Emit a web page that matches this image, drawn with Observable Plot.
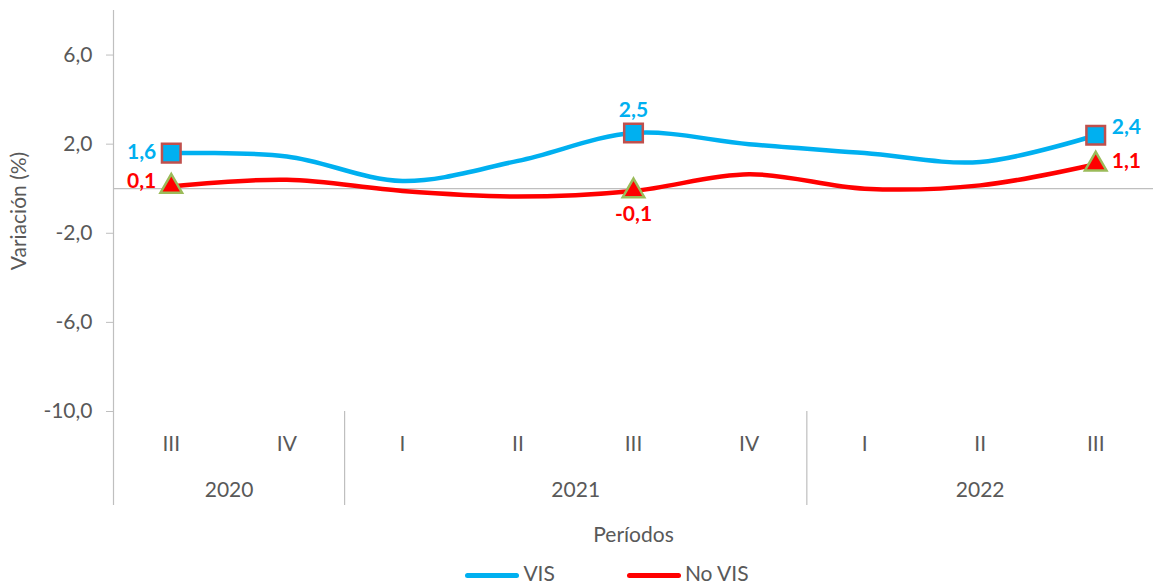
<!DOCTYPE html>
<html>
<head>
<meta charset="utf-8">
<script src="https://cdn.jsdelivr.net/npm/d3@7"></script>
<script src="https://cdn.jsdelivr.net/npm/@observablehq/plot@0.6"></script>
<style>
  html, body { margin: 0; padding: 0; background: #fff; }
  #chart { width: 1154px; }
  .legend { display: flex; justify-content: center; align-items: center; gap: 72px; height: 24px;
    font-family: Lato, "Open Sans", sans-serif; font-size: 21px; color: #595959; margin-left: 60px; margin-top: 0px; }
  .legend span.sw { display: inline-block; width: 54px; height: 5px; border-radius: 3px; margin-right: 4px; vertical-align: middle; }
</style>
</head>
<body>
<div id="chart"></div>
<script>
const periods = ["III", "IV", "I", "II", "III", "IV", "I", "II", "III"];
const years   = [2020, 2020, 2021, 2021, 2021, 2021, 2022, 2022, 2022];
const vis     = [1.6, 1.45, 0.35, 1.25, 2.5, 2.0, 1.6, 1.2, 2.4];
const noVis   = [0.1, 0.4, -0.1, -0.35, -0.1, 0.65, 0.0, 0.15, 1.1];
const labeled = [0, 4, 8];
const yTicks  = [-10, -6, -2, 2, 6];
const seriesNames  = ["VIS", "No VIS"];
const seriesColors = ["#00B0F0", "#FF0000"];

const idx = periods.map((_, i) => i);
const rows = idx.flatMap(i => [
  {i, serie: "VIS", v: vis[i]},
  {i, serie: "No VIS", v: noVis[i]}
]);
const yearList = Array.from(new Set(years));
const yearCenters = yearList.map(y => d3.mean(idx.filter(i => years[i] === y)));
const separators = yearList.slice(1).map(y => idx.find(i => years[i] === y) - 0.5);
const fmt = d3.formatLocale({decimal: ",", thousands: ".", grouping: [3], currency: ["", ""], minus: "-"}).format(".1f");

const width = 1154, height = 560;
const marginTop = 10, marginBottom = 149, marginLeft = 113, marginRight = 1;
const below = 94; // depth of category band under the frame
const txt = "#595959", grid = "#BFBFBF";
const font = "Lato, 'Open Sans', sans-serif";
const fs = 21;

const labelAnchor = (k) => k === 0 ? "left" : (k === labeled.length - 1 ? "right" : "mid");

const visLab = labeled.map((i, k) => ({i, v: vis[i], pos: labelAnchor(k)}));
const noLab = labeled.map((i, k) => ({i, v: noVis[i], pos: labelAnchor(k)}));

const chart = Plot.plot({
  width, height, marginTop, marginBottom, marginLeft, marginRight,
  style: {fontFamily: font, fontSize: fs + "px", color: txt, background: "#fff"},
  x: {type: "linear", domain: [-0.5, periods.length - 0.5]},
  y: {domain: [-10, 8]},
  marks: [
    Plot.ruleY([0], {stroke: grid, strokeWidth: 1.2}),
    Plot.ruleX([-0.5], {stroke: grid, strokeWidth: 1.2, insetBottom: -below}),
    Plot.axisX({ticks: separators, tickSize: below, tickFormat: () => "", stroke: grid, strokeWidth: 1.2, tickPadding: 0, label: null}),
    Plot.axisX({ticks: idx, tickSize: 0, tickPadding: 25, tickFormat: i => periods[i], fill: txt, fontSize: fs, label: null}),
    Plot.axisX({ticks: yearCenters, tickSize: 0, tickPadding: 71, tickFormat: (d) => String(yearList[yearCenters.indexOf(d)]), fill: txt, fontSize: fs, label: "Períodos", labelAnchor: "center", labelOffset: 130, labelArrow: "none"}),
    Plot.axisY({ticks: yTicks, tickSize: 7, tickPadding: 14, tickFormat: fmt, stroke: grid, fill: txt, fontSize: fs, label: "Variación (%)", labelAnchor: "center", labelOffset: 102, labelArrow: "none"}),
    Plot.line(rows, {x: "i", y: "v", z: "serie", stroke: "serie", strokeWidth: 4.5, curve: "catmull-rom"}),
    Plot.dot(labeled.map(i => ({i, v: noVis[i]})), {x: "i", y: "v", symbol: "triangle", r: 8, fill: "#FF0000", stroke: "#9BBB59", strokeWidth: 2.5}),
    Plot.dot(labeled.map(i => ({i, v: vis[i]})), {x: "i", y: "v", symbol: "square", r: 10.5, fill: "#00B0F0", stroke: "#C0504D", strokeWidth: 2.5}),
    Plot.text(visLab.filter(d => d.pos === "left"), {x: "i", y: "v", text: d => fmt(d.v), textAnchor: "end", dx: -15, dy: -1, fill: "#00B0F0", fontWeight: "bold", fontSize: fs}),
    Plot.text(visLab.filter(d => d.pos === "mid"), {x: "i", y: "v", text: d => fmt(d.v), textAnchor: "middle", dy: -23, fill: "#00B0F0", fontWeight: "bold", fontSize: fs}),
    Plot.text(visLab.filter(d => d.pos === "right"), {x: "i", y: "v", text: d => fmt(d.v), textAnchor: "start", dx: 16, dy: -8, fill: "#00B0F0", fontWeight: "bold", fontSize: fs}),
    Plot.text(noLab.filter(d => d.pos === "left"), {x: "i", y: "v", text: d => fmt(d.v), textAnchor: "end", dx: -15, dy: -5, fill: "#FF0000", fontWeight: "bold", fontSize: fs}),
    Plot.text(noLab.filter(d => d.pos === "mid"), {x: "i", y: "v", text: d => fmt(d.v), textAnchor: "middle", dy: 23, fill: "#FF0000", fontWeight: "bold", fontSize: fs}),
    Plot.text(noLab.filter(d => d.pos === "right"), {x: "i", y: "v", text: d => fmt(d.v), textAnchor: "start", dx: 16, dy: -3, fill: "#FF0000", fontWeight: "bold", fontSize: fs})
  ],
  color: {domain: seriesNames, range: seriesColors}
});
document.getElementById("chart").append(chart);

const legend = document.createElement("div");
legend.className = "legend";
seriesNames.forEach((n, k) => {
  const item = document.createElement("div");
  const sw = document.createElement("span");
  sw.className = "sw";
  sw.style.background = seriesColors[k];
  item.append(sw, document.createTextNode(n));
  legend.append(item);
});
document.getElementById("chart").append(legend);
</script>
</body>
</html>
